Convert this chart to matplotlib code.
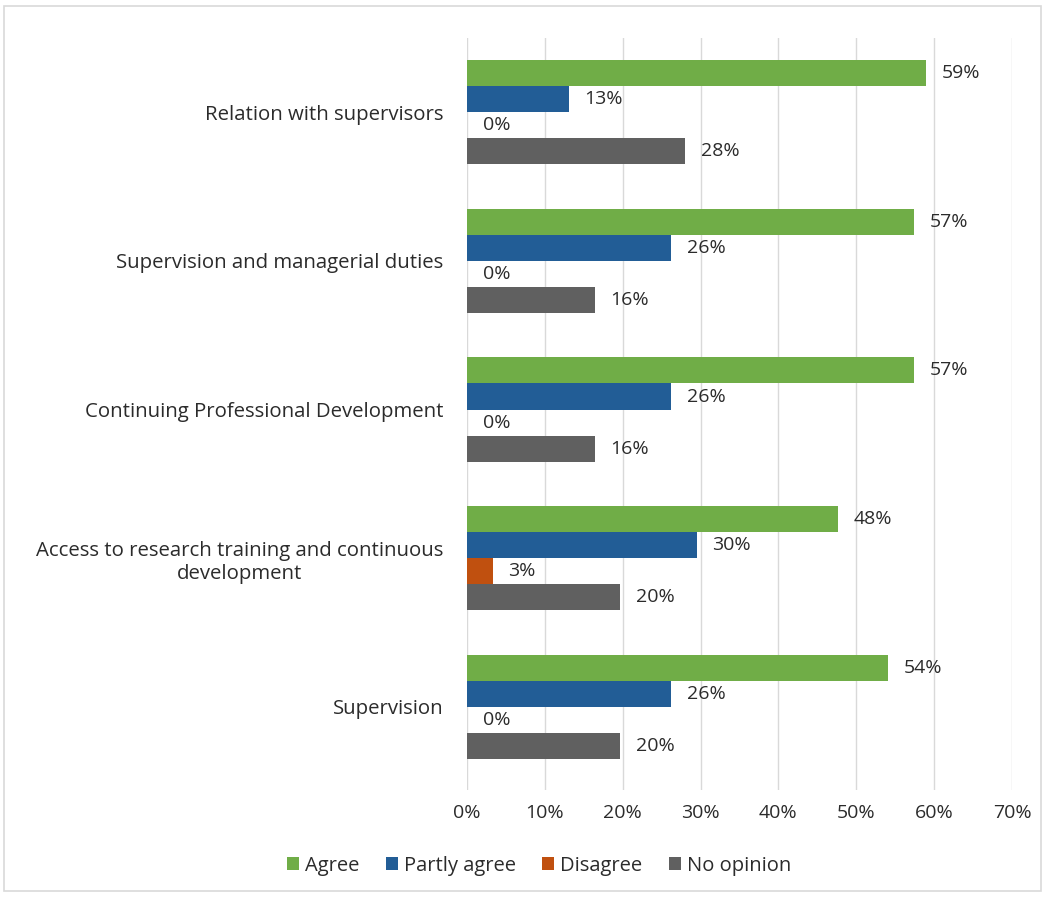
from matplotlib import pyplot as plt
from matplotlib.patches import Rectangle
import numpy as np

plt.rcParams['font.family'] = ['Open Sans', 'DejaVu Sans']

categories = ['Supervision',
              'Access to research training and continuous\ndevelopment',
              'Continuing Professional Development',
              'Supervision and managerial duties',
              'Relation with supervisors']
series = ['Agree', 'Partly agree', 'Disagree', 'No opinion']
agree = [54.1, 47.6, 57.4, 57.4, 59.0]
partly = [26.2, 29.5, 26.2, 26.2, 13.1]
disagree = [0, 3.3, 0, 0, 0]
no_opinion = [19.7, 19.7, 16.4, 16.4, 28.0]
couleurs = ['#70AD47', '#225D96', '#C0500F', '#606060']

texte = '#2b2b2b'
taille = 14.7

fig = plt.figure(figsize=(10.47, 8.98), dpi=100)
ax = fig.add_axes([0.446, 0.12, 0.5206, 0.838])

h = 0.175
y = np.arange(len(categories))
valeurs = [agree, partly, disagree, no_opinion]
for i, (nom, vals, c) in enumerate(zip(series, valeurs, couleurs)):
    pos = y + (1.5 - i) * h
    ax.barh(pos, vals, height=h, color=c, label=nom, zorder=3)
    for p, v in zip(pos, vals):
        ax.text(v + 2.0, p, f'{v:.0f}%', va='center', ha='left',
                fontsize=14, color=texte)

ax.set_xlim(0, 70)
ax.set_ylim(-0.56, 4.5)
ax.set_xticks(np.arange(0, 71, 10))
ax.set_xticklabels([f'{t}%' for t in range(0, 71, 10)], fontsize=14, color=texte)
ax.set_yticks(y)
ax.set_yticklabels(categories, fontsize=taille, color=texte, multialignment='center')
ax.tick_params(axis='y', length=0, pad=17)
ax.tick_params(axis='x', length=0, pad=10)
ax.grid(axis='x', color='#d9d9d9', linewidth=1, zorder=0)
for s in ax.spines.values():
    s.set_visible(False)

fig.legend(loc='center', bbox_to_anchor=(0.515, 0.036), ncol=4, frameon=False,
           fontsize=14.5, handlelength=0.6, handleheight=0.6, handletextpad=0.3,
           columnspacing=1.3, labelcolor=texte)

fig.patches.append(Rectangle((0.004, 0.008), 0.99, 0.985, transform=fig.transFigure,
                             fill=False, edgecolor='#d9d9d9', linewidth=1.2))

fig.savefig('out.png', dpi=100)
